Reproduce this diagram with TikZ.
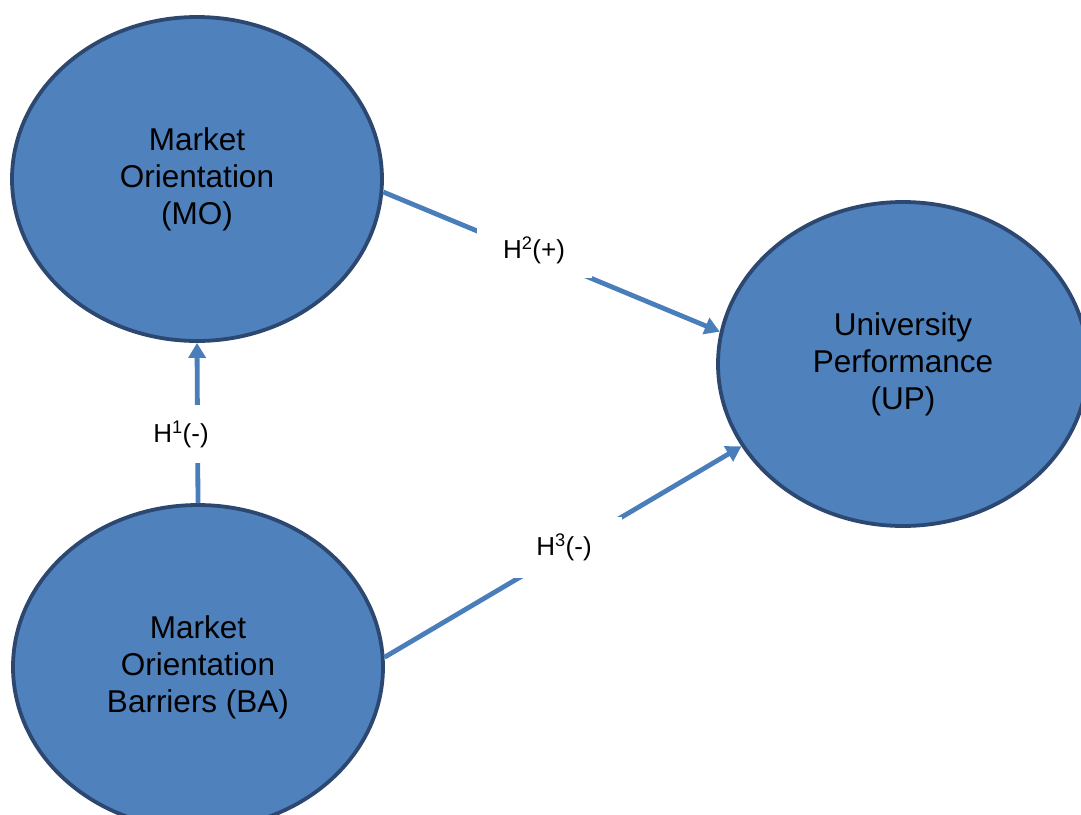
\documentclass[tikz,border=0pt]{standalone}
\usepackage{fontspec}
\setmainfont{Liberation Sans}
\usetikzlibrary{shapes.geometric,arrows.meta}
\definecolor{construct}{HTML}{4F81BD}
\definecolor{constructedge}{HTML}{2C4770}
\definecolor{pathline}{HTML}{4A7EBB}
\tikzset{
  construct/.style={ellipse, draw=constructedge, line width=3.8pt, fill=construct,
    minimum width=370pt, minimum height=324pt, inner sep=0pt, align=center,
    font=\fontsize{31.5}{37}\selectfont},
  hypopath/.style={draw=pathline, line width=4.8pt,
    -{Triangle[length=15pt,width=17pt]}},
  hypolabel/.style={fill=white, inner sep=0pt, minimum width=115pt,
    font=\fontsize{26}{30}\selectfont}
}
\begin{document}
\begin{tikzpicture}[x=1pt,y=-1pt]
  \useasboundingbox (0,0) rectangle (1081,814);
  \clip (0,0) rectangle (1081,814);

  % latent constructs
  \node[construct] (MO) at (197,179) {Market\\Orientation\\(MO)};
  \node[construct] (BA) at (198,667) {Market\\Orientation\\Barriers (BA)};
  \node[construct] (UP) at (903,364) {University\\Performance\\(UP)};

  % hypothesised paths
  \draw[hypopath] (BA.north) -- (MO.south);
  \draw[hypopath] (MO.-4) -- (UP.170);
  \draw[hypopath] (BA.3) -- (UP.207);

  % path labels
  \node[hypolabel, minimum height=58pt] (H1) at (181,434) {H\textsuperscript{1}(-)};
  \node[hypolabel, minimum height=56pt] (H2) at (534,250) {H\textsuperscript{2}(+)};
  \node[hypolabel, minimum height=61pt] (H3) at (564,547) {H\textsuperscript{3}(-)};
\end{tikzpicture}
\end{document}
